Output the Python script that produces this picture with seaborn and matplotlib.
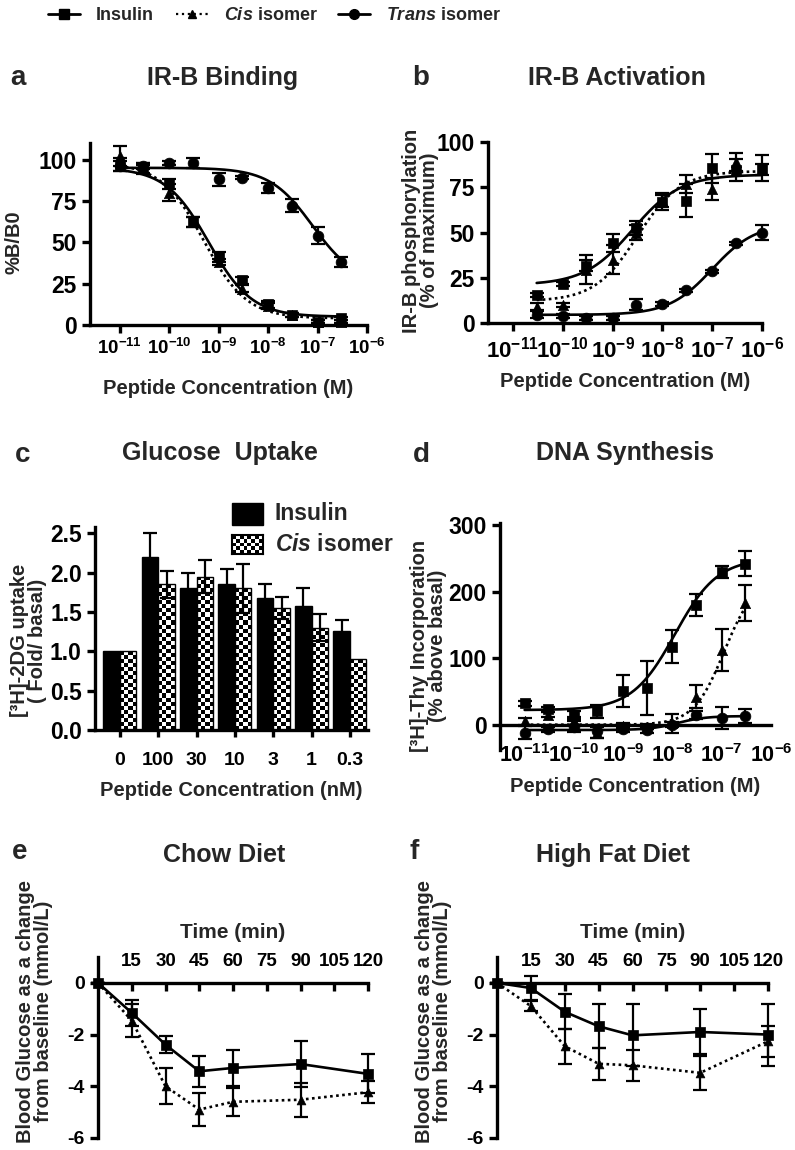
import numpy as np
import pandas as pd
import seaborn as sns
import matplotlib.pyplot as plt
from matplotlib.patches import Rectangle
from matplotlib.lines import Line2D
from matplotlib.ticker import FuncFormatter

# ---- data ----
# a / b / d: concentrations (M)
conc_a = [1e-11, 3e-11, 1e-10, 3e-10, 1e-9, 3e-9, 1e-8, 3e-8, 1e-7, 3e-7]
a_ins = [97, 94, 85, 62, 41, 27, 12.5, 6, 2, 4]
a_ins_err = [4, 3, 3, 3, 3, 2, 2, 1, 1, 1]
a_cis = [102, 95, 80, 62, 38, 22, 11.5, 6, 2, 2]
a_cis_err = [6, 3, 5, 3, 2, 2, 2, 1, 1, 1]
a_trans = [96, 96, 98, 98, 88, 89, 83, 72, 54, 38]
a_trans_err = [3, 2, 1, 3, 4, 1, 3, 4, 5, 3]

conc_b = [3e-11, 1e-10, 3e-10, 1e-9, 3e-9, 1e-8, 3e-8, 1e-7, 3e-7, 1e-6]
b_ins = [15.6, 21.7, 31.7, 44, 52.5, 66.7, 67.6, 85.6, 84.7, 85.6]
b_ins_err = [1, 1, 3, 5, 4, 4, 9, 8, 6, 7]
b_cis = [9, 10, 29.5, 35, 50, 68, 77, 74, 89, 85]
b_cis_err = [2, 1, 8, 8, 4, 4, 5, 6, 5, 3]
b_trans = [4.6, 3.7, 2.8, 2.8, 10, 10.5, 18, 28.5, 44, 50]
b_trans_err = [2, 1, 1, 1, 3, 1, 1, 1, 1, 4]

conc_d = [1e-11, 3e-11, 1e-10, 3e-10, 1e-9, 3e-9, 1e-8, 3e-8, 1e-7, 3e-7]
d_ins = [32, 23, 15, 20, 50, 55, 117, 180, 230, 242]
d_ins_err = [4, 4, 6, 10, 24, 40, 25, 17, 9, 19]
d_cis = [5, 15, 5, -12, -2, -3, 2, 42, 112, 183]
d_cis_err = [5, 4, 6, 8, 4, 4, 14, 17, 32, 27]
d_trans = [-12, -7, -3, -10, -7, -8, 0, 15, 10, 13]
d_trans_err = [10, 4, 8, 10, 4, 4, 4, 6, 16, 10]

# fitted 4PL curves: (low-conc plateau, high-conc plateau, logEC50, hill)
fit_a = {'ins': (95, 5, -9.2, 1.0), 'cis': (98, 4, -9.3, 1.0), 'trans': (95, 25, -7.1, 1.0)}
fit_b = {'ins': (21, 82, -8.6, 0.9), 'cis': (12, 84, -8.5, 1.0), 'trans': (4.5, 55, -7.0, 1.0)}
fit_d = {'ins': (22, 250, -7.95, 1.0), 'cis': (0, 220, -6.95, 1.4), 'trans': (-8, 13, -7.9, 1.5)}

# c: glucose uptake
conc_c = ['0', '100', '30', '10', '3', '1', '0.3']
c_ins = [1.0, 2.2, 1.8, 1.85, 1.68, 1.58, 1.26]
c_ins_err = [0, 0.3, 0.19, 0.19, 0.18, 0.23, 0.14]
c_cis = [1.0, 1.85, 1.95, 1.80, 1.55, 1.30, 0.90]
c_cis_err = [0, 0.17, 0.21, 0.31, 0.14, 0.17, 0]

# e / f: time course
time_min = [0, 15, 30, 45, 60, 90, 120]
e_ins = [0, -1.16, -2.39, -3.42, -3.29, -3.14, -3.52]
e_ins_err = [0, 0.5, 0.32, 0.6, 0.7, 0.9, 0.75]
e_cis = [0, -1.46, -4.0, -4.9, -4.6, -4.52, -4.23]
e_cis_err = [0, 0.65, 0.7, 0.63, 0.54, 0.66, 0.42]
f_ins = [0, -0.2, -1.12, -1.68, -2.03, -1.9, -2.0]
f_ins_err = [0, 0.45, 0.67, 0.85, 1.2, 0.87, 1.2]
f_cis = [0, -0.9, -2.45, -3.13, -3.19, -3.48, -2.26]
f_cis_err = [0, 0.2, 0.67, 0.62, 0.6, 0.65, 0.6]

# ---- style ----
sns.set_theme(style='ticks')
plt.rcParams.update({
    'font.family': ['Liberation Sans', 'DejaVu Sans'],
    'font.weight': 'bold',
    'axes.labelweight': 'bold',
    'axes.linewidth': 2.4,
    'axes.unicode_minus': False,
    'mathtext.fontset': 'custom',
    'mathtext.rm': 'Liberation Sans:bold',
    'mathtext.bf': 'Liberation Sans:bold',
    'mathtext.it': 'Liberation Sans:italic:bold',
})

W, H = 795, 1150
fig = plt.figure(figsize=(W / 100, H / 100), dpi=100)


def add_ax(l, t, r, b):
    return fig.add_axes([l / W, 1 - b / H, (r - l) / W, (b - t) / H])


def prism(ax, yfs=16, xfs=15):
    sns.despine(ax=ax)
    ax.tick_params(width=2.4, length=6, color='black', labelcolor='black')
    ax.tick_params(axis='y', labelsize=yfs)
    ax.tick_params(axis='x', labelsize=xfs)
    for s in ax.spines.values():
        s.set_color('black')


def four_pl(x, p):
    lo, hi, l50, h = p
    return lo + (hi - lo) / (1 + 10 ** ((l50 - np.log10(x)) * h))


def draw_series(ax, x, y, err, marker, size, ls, fit=None, xfit=None):
    ax.errorbar(x, y, yerr=err, fmt='none', ecolor='black', elinewidth=1.6,
                capsize=5, capthick=1.6, zorder=2, clip_on=False)
    if fit is not None:
        xx = np.logspace(np.log10(xfit[0]), np.log10(xfit[1]), 200)
        sns.lineplot(x=xx, y=four_pl(xx, fit), ax=ax, color='black', lw=1.9,
                     linestyle=ls, estimator=None, sort=False)
    else:
        sns.lineplot(x=x, y=y, ax=ax, color='black', lw=1.9, linestyle=ls,
                     estimator=None, sort=False)
    sns.scatterplot(x=x, y=y, ax=ax, marker=marker, s=size, color='black',
                    edgecolor='black', linewidth=0.5, zorder=3, clip_on=False)


DOT = (0, (1, 1.3))
log_fmt = FuncFormatter(lambda v, p: r'$\mathbf{10^{%d}}$' % round(np.log10(v)))


def label_fig(x, y, s, size=18):
    fig.text(x / W, 1 - y / H, s, ha='center', va='center', fontsize=size, fontweight='bold')


# ---- a ----
ax = add_ax(90, 143, 367, 325)
ax.set_xscale('log')
draw_series(ax, conc_a, a_ins, a_ins_err, 's', 60, '-', fit_a['ins'], (1e-11, 3e-7))
draw_series(ax, conc_a, a_cis, a_cis_err, '^', 55, DOT, fit_a['cis'], (1e-11, 3e-7))
draw_series(ax, conc_a, a_trans, a_trans_err, 'o', 60, '-', fit_a['trans'], (1e-11, 3e-7))
ax.set_xlim(10 ** -11.6, 1e-6)
ax.set_ylim(0, 110)
ax.set_yticks([0, 25, 50, 75, 100])
ax.set_xticks([10.0 ** k for k in range(-11, -5)])
ax.xaxis.set_major_formatter(log_fmt)
ax.minorticks_off()
prism(ax, 16.5, 13.5)
ax.set_xlabel('Peptide Concentration (M)', fontsize=14.5)
ax.set_ylabel('%B/B0', fontsize=14.5)
ax.xaxis.set_label_coords(0.5, -0.297)
ax.yaxis.set_label_coords(-0.241, 0.456)

# ---- b ----
ax = add_ax(488, 142, 762, 323)
ax.set_xscale('log')
draw_series(ax, conc_b, b_ins, b_ins_err, 's', 60, '-', fit_b['ins'], (3e-11, 1e-6))
draw_series(ax, conc_b, b_cis, b_cis_err, '^', 55, DOT, fit_b['cis'], (3e-11, 1e-6))
draw_series(ax, conc_b, b_trans, b_trans_err, 'o', 60, '-', fit_b['trans'], (3e-11, 1e-6))
ax.set_xlim(10 ** -11.5, 1e-6)
ax.set_ylim(0, 100)
ax.set_yticks([0, 25, 50, 75, 100])
ax.set_xticks([10.0 ** k for k in range(-11, -5)])
ax.xaxis.set_major_formatter(log_fmt)
ax.minorticks_off()
prism(ax, 16.5, 16)
ax.set_xlabel('Peptide Concentration (M)', fontsize=14.5)
ax.set_ylabel('IR-B phosphorylation\n(% of maximum)', fontsize=14.5, linespacing=0.95)
ax.xaxis.set_label_coords(0.5, -0.27)
ax.yaxis.set_label_coords(-0.178, 0.51)

# ---- c ----
ax = add_ax(95, 527, 368, 730)
df_c = pd.DataFrame({
    'conc': conc_c * 2,
    'value': c_ins + c_cis,
    'peptide': ['Insulin'] * len(conc_c) + ['Cis isomer'] * len(conc_c),
})
sns.barplot(data=df_c, x='conc', y='value', hue='peptide', order=conc_c,
            hue_order=['Insulin', 'Cis isomer'],
            palette={'Insulin': 'black', 'Cis isomer': 'white'},
            edgecolor='black', linewidth=1, width=0.86, errorbar=None,
            saturation=1, legend=False, ax=ax)
ax.set_xlim(-0.65, 6.47)
ax.set_ylim(0, 2.58)
for bars, err in zip(ax.containers, [c_ins_err, c_cis_err]):
    xs = [p.get_x() + p.get_width() / 2 for p in bars]
    ys = [p.get_height() for p in bars]
    e = np.array(err)
    ax.errorbar(xs, ys, yerr=np.where(e > 0, e, np.nan), fmt='none', ecolor='black',
                elinewidth=1.6, capsize=5, capthick=1.6, zorder=4)
# checkered fill for the Cis bars
cell = 4.0
for p in ax.containers[1]:
    x0, y0, w, h = p.get_x(), p.get_y(), p.get_width(), p.get_height()
    (px0, py0), (px1, py1) = ax.transData.transform([(x0, y0), (x0 + w, y0 + h)])
    nx = max(1, int(round((px1 - px0) / cell)))
    ny = max(1, int(round((py1 - py0) / cell)))
    board = np.add.outer(np.arange(ny), np.arange(nx)) % 2
    im = ax.imshow(board, extent=(x0, x0 + w, y0, y0 + h), cmap='gray', vmin=0, vmax=1,
                   aspect='auto', interpolation='nearest', zorder=1)
    im.set_clip_path(p)
    p.set_facecolor('none')
    p.set_zorder(2)
ax.set_xlim(-0.65, 6.47)
ax.set_ylim(0, 2.58)
ax.set_yticks([0, 0.5, 1.0, 1.5, 2.0, 2.5])
ax.yaxis.set_major_formatter(FuncFormatter(lambda v, p: '%.1f' % v))
prism(ax, 16.5, 14)
ax.tick_params(axis='x', length=5, pad=11)
ax.set_xlabel('Peptide Concentration (nM)', fontsize=14.5)
ax.set_ylabel('[³H]-2DG uptake\n( Fold/ basal)', fontsize=14.5, linespacing=0.95)
ax.xaxis.set_label_coords(0.5, -0.25)
ax.yaxis.set_label_coords(-0.175, 0.44)

# legend of c
fig.add_artist(Rectangle((232 / W, 1 - 525 / H), 31 / W, 22 / H, transform=fig.transFigure,
                         facecolor='black', edgecolor='black'))
lax = fig.add_axes([232 / W, 1 - 554 / H, 31 / W, 19 / H])
lax.imshow(np.add.outer(np.arange(5), np.arange(8)) % 2, cmap='gray', vmin=0, vmax=1,
           aspect='auto', interpolation='nearest')
lax.set_xticks([])
lax.set_yticks([])
for s in lax.spines.values():
    s.set_linewidth(1.5)
    s.set_color('black')
fig.text(275 / W, 1 - 514 / H, 'Insulin', fontsize=16.5, fontweight='bold', va='center')
fig.text(275 / W, 1 - 545 / H, r'$\mathit{Cis}$ isomer', fontsize=16.5, fontweight='bold', va='center')

# ---- d ----
ax = add_ax(500, 523, 771, 750)
ax.set_xscale('log')
draw_series(ax, conc_d, d_ins, d_ins_err, 's', 60, '-', fit_d['ins'], (1e-11, 3e-7))
draw_series(ax, conc_d, d_cis, d_cis_err, '^', 55, DOT, fit_d['cis'], (1e-11, 3e-7))
draw_series(ax, conc_d, d_trans, d_trans_err, 'o', 60, '-', fit_d['trans'], (1e-11, 3e-7))
ax.set_xlim(10 ** -11.5, 1e-6)
ax.set_ylim(-38, 303)
ax.set_yticks([0, 100, 200, 300])
ax.set_xticks([10.0 ** k for k in range(-11, -5)])
ax.xaxis.set_major_formatter(log_fmt)
ax.minorticks_off()
prism(ax, 16.5, 15.5)
ax.spines['bottom'].set_position(('data', 0))
ax.tick_params(axis='x', length=0, pad=14)
ax.set_xlabel('Peptide Concentration (M)', fontsize=14.5)
ax.set_ylabel('[³H]-Thy Incorporation\n(% above basal)', fontsize=14.5, linespacing=0.95)
ax.xaxis.set_label_coords(0.5, -0.12)
ax.yaxis.set_label_coords(-0.195, 0.46)

# ---- e / f ----
for (l, r), ins, ins_err, cis, cis_err in [((98, 368), e_ins, e_ins_err, e_cis, e_cis_err),
                                          ((497, 768), f_ins, f_ins_err, f_cis, f_cis_err)]:
    ax = add_ax(l, 957, r, 1138)
    draw_series(ax, time_min, cis, cis_err, '^', 40, DOT)
    draw_series(ax, time_min, ins, ins_err, 's', 50, '-')
    ax.set_xlim(0, 120)
    ax.set_ylim(-6, 1)
    ax.set_yticks([0, -2, -4, -6])
    ax.set_xticks([15, 30, 45, 60, 75, 90, 105, 120])
    prism(ax, 14, 13.5)
    ax.spines['bottom'].set_visible(False)
    ax.spines['top'].set_visible(True)
    ax.spines['top'].set_position(('data', 0))
    ax.xaxis.tick_top()
    ax.xaxis.set_label_position('top')
    ax.tick_params(axis='x', direction='in', length=6, width=2.4, pad=9)
    ax.set_xlabel('Time (min)', fontsize=15)
    ax.set_ylabel('Blood Glucose as a change\nfrom baseline (mmol/L)', fontsize=14.5, linespacing=0.95)
    ax.xaxis.set_label_coords(0.5, 1.105)
    ax.yaxis.set_label_coords(-0.165, 0.70)

# ---- titles and panel letters ----
for x, y, s in [(223, 78, 'IR-B Binding'), (617, 78, 'IR-B Activation'),
                (220, 453, 'Glucose  Uptake'), (625, 453, 'DNA Synthesis'),
                (224, 855, 'Chow Diet'), (613, 855, 'High Fat Diet')]:
    label_fig(x, y, s, 18)
for x, y, s in [(18, 78, 'a'), (421, 78, 'b'), (23, 455, 'c'), (421, 455, 'd'),
                (20, 852, 'e'), (414, 852, 'f')]:
    label_fig(x, y, s, 20)

# ---- shared legend (one entry per column, placed like the original) ----
handles = [Line2D([], [], color='black', lw=2, marker='s', ms=7),
           Line2D([], [], color='black', lw=1.6, ls=':', marker='^', ms=6),
           Line2D([], [], color='black', lw=2, marker='o', ms=7)]
labels = ['Insulin', r'$\mathit{Cis}$ isomer', r'$\mathit{Trans}$ isomer']
for hnd, lab, x0 in zip(handles, labels, [48, 176, 338]):
    fig.legend([hnd], [lab], loc='center left', bbox_to_anchor=(x0 / W, 1 - 16 / H),
               frameon=False, borderpad=0, borderaxespad=0, handlelength=1.75,
               handletextpad=0.9, prop={'weight': 'bold', 'size': 13})

fig.savefig('out.png', dpi=100)
